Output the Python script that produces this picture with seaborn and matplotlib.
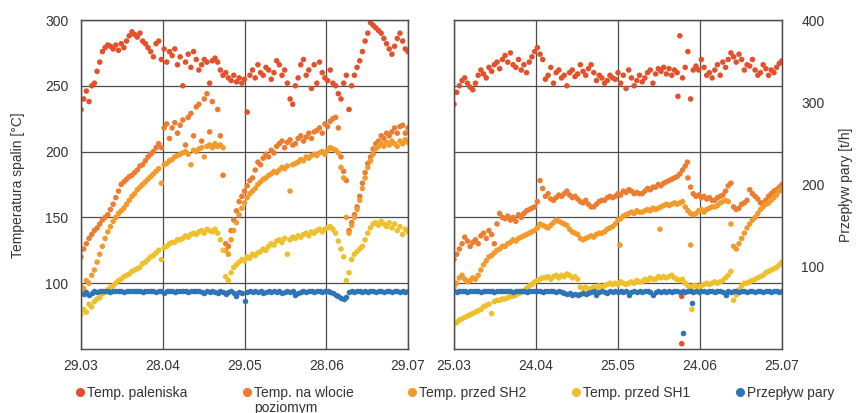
import numpy as np
import pandas as pd
import matplotlib
matplotlib.use("Agg")
import matplotlib.pyplot as plt
from matplotlib.lines import Line2D
import seaborn as sns

sns.set_style("white")
plt.rcParams['font.family'] = ['Liberation Sans', 'DejaVu Sans']

# labels
left_dates = ["29.03", "28.04", "29.05", "28.06", "29.07"]
right_dates = ["25.03", "24.04", "25.05", "24.06", "25.07"]
names = ["Temp. paleniska", "Temp. na wlocie\npoziomym", "Temp. przed SH2",
         "Temp. przed SH1", "Przepływ pary"]
colors = ["#E4502A", "#EC7C30", "#F29B2C", "#EDC02C", "#2F74B5"]

# left period, one reading per day from 29.03 (temperatures in C, flow in t/h)
pal_L = [232, 240, 246, 238, 250, 252, 261, 268, 276, 279,
         281, 280, 278, 281, 277, 282, 279, 284, 288, 291,
         289, 287, 290, 284, 282, 279, 276, 272, 282, 284,
         270, 278, 268, 276, 273, 278, 266, 272, 250, 268,
         274, 264, 276, 270, 262, 266, 270, 268, 252, 269,
         271, 268, 262, 258, 260, 256, 254, 258, 253, 256,
         252, 255, 230, 258, 262, 256, 266, 260, 258, 264,
         262, 255, 260, 269, 266, 258, 262, 252, 240, 236,
         250, 256, 266, 270, 258, 262, 248, 266, 252, 268,
         260, 256, 254, 262, 252, 250, 244, 240, 252, 258,
         232, 250, 258, 264, 269, 276, 284, 290, 298, 296,
         294, 292, 290, 286, 282, 278, 274, 280, 286, 290,
         284, 278, 276]
wl_L = [120, 126, 130, 134, 137, 140, 142, 145, 148, 150,
        152, 156, 160, 165, 170, 175, 177, 179, 181, 182,
        184, 186, 189, 190, 193, 196, 198, 200, 203, 206,
        203, 218, 221, 210, 218, 222, 214, 220, 224, 205,
        226, 229, 212, 234, 236, 208, 240, 244, 215, 238,
        205, 232, 212, 182, 130, 128, 140, 148, 155, 162,
        166, 170, 174, 178, 180, 186, 192, 190, 195, 198,
        196, 201, 199, 204, 206, 208, 203, 207, 209, 205,
        206, 210, 212, 208, 211, 214, 210, 215, 216, 218,
        214, 221, 219, 223, 225, 226, 218, 196, 185, 178,
        140, 146, 152, 158, 166, 176, 184, 191, 196, 202,
        206, 208, 212, 210, 214, 212, 215, 218, 214, 219,
        220, 214, 218]
sh2_L = [98, 96, 102, 100, 106, 110, 116, 122, 128, 134,
         139, 143, 147, 150, 153, 155, 157, 160, 163, 166,
         168, 171, 173, 175, 177, 179, 181, 183, 185, 187,
         176, 190, 191, 193, 194, 196, 197, 198, 199, 200,
         198, 190, 201, 200, 202, 203, 196, 204, 205, 203,
         206, 204, 205, 203, 125, 122, 133, 140, 146, 152,
         157, 161, 165, 168, 170, 172, 175, 177, 179, 180,
         182, 183, 185, 184, 186, 188, 187, 189, 170, 190,
         191, 192, 194, 193, 196, 195, 197, 198, 197, 199,
         200, 198, 201, 203, 202, 201, 199, 188, 180, 150,
         138, 144, 150, 156, 163, 172, 180, 188, 193, 198,
         202, 204, 206, 204, 207, 205, 208, 206, 204, 208,
         206, 209, 207]
sh1_L = [76, 80, 78, 84, 82, 86, 88, 89, 92, 93,
         95, 97, 98, 100, 102, 103, 105, 106, 107, 109,
         110, 111, 112, 115, 116, 118, 120, 121, 123, 125,
         118, 127, 128, 130, 131, 131, 133, 133, 134, 136,
         135, 137, 138, 137, 139, 140, 138, 141, 140, 139,
         141, 138, 133, 125, 105, 102, 108, 112, 114, 116,
         118, 117, 120, 119, 122, 121, 123, 124, 126, 125,
         128, 130, 129, 132, 133, 131, 134, 122, 133, 135,
         134, 136, 135, 137, 138, 136, 139, 138, 140, 141,
         139, 141, 142, 143, 141, 138, 132, 126, 120, 102,
         108, 118, 122, 124, 126, 128, 133, 138, 142, 145,
         146, 144, 147, 145, 143, 146, 142, 145, 140, 143,
         137, 141, 139]
flow_L = [68, 67, 69, 66, 68, 70, 69, 70, 71, 70,
          70, 69, 71, 70, 70, 71, 69, 70, 71, 70,
          70, 71, 70, 69, 70, 71, 70, 70, 69, 71,
          70, 68, 70, 71, 70, 69, 70, 70, 71, 70,
          69, 70, 71, 70, 70, 69, 68, 70, 69, 70,
          69, 68, 70, 69, 67, 69, 70, 68, 65, 69,
          68, 58, 69, 70, 69, 70, 69, 70, 68, 69,
          70, 69, 70, 69, 70, 68, 69, 70, 69, 70,
          66, 68, 69, 70, 69, 70, 70, 69, 70, 70,
          69, 70, 70, 69, 68, 66, 64, 62, 61, 63,
          69, 70, 69, 70, 70, 69, 70, 69, 70, 70,
          69, 70, 70, 69, 70, 70, 69, 70, 70, 69,
          70, 69, 70]

# right period, one reading per day from 25.03
pal_R = [236, 245, 250, 254, 256, 252, 249, 247, 252, 258,
         262, 259, 256, 264, 261, 266, 268, 263, 270, 273,
         268, 275, 266, 264, 270, 262, 266, 260, 268, 272,
         276, 279, 274, 270, 255, 258, 264, 252, 260, 262,
         256, 258, 250, 260, 262, 257, 259, 266, 261, 258,
         263, 266, 260, 254, 258, 256, 252, 254, 258, 256,
         255, 260, 252, 258, 248, 262, 256, 250, 254, 258,
         253, 256, 260, 262, 252, 259, 263, 261, 264, 259,
         263, 258, 262, 260, 288, 256, 264, 276, 240, 262,
         265, 262, 270, 264, 258, 260, 256, 262, 266, 258,
         268, 264, 270, 275, 272, 268, 274, 270, 262, 266,
         265, 270, 262, 258, 260, 266, 263, 258, 262, 260,
         264, 267, 269]
wl_R = [118, 122, 126, 130, 135, 132, 128, 131, 133, 130,
        136, 138, 134, 140, 137, 130, 145, 153, 150, 149,
        151, 148, 150, 147, 152, 150, 153, 155, 156, 157,
        158, 162, 178, 172, 166, 168, 164, 163, 165, 167,
        166, 168, 170, 167, 165, 166, 164, 162, 161, 163,
        160, 158, 158, 160, 162, 163, 163, 165, 166, 165,
        166, 168, 167, 170, 169, 171, 170, 168, 169, 168,
        168, 170, 172, 171, 173, 173, 175, 174, 176, 177,
        178, 179, 180, 181, 183, 186, 189, 180, 173, 168,
        166, 167, 165, 166, 164, 165, 163, 163, 165, 166,
        167, 170, 174, 176, 158, 156, 157, 160, 161, 163,
        171, 168, 166, 164, 161, 161, 163, 166, 168, 170,
        171, 173, 175]
sh2_R = [97, 100, 104, 106, 103, 101, 102, 104, 103, 106,
         110, 114, 117, 120, 121, 123, 125, 126, 128, 128,
         130, 131, 133, 132, 134, 135, 136, 137, 138, 139,
         140, 142, 145, 144, 143, 142, 144, 146, 148, 147,
         146, 145, 144, 141, 139, 138, 137, 134, 133, 134,
         135, 136, 135, 137, 138, 138, 139, 141, 142, 143,
         145, 148, 149, 151, 152, 153, 154, 153, 155, 154,
         154, 155, 156, 155, 157, 156, 157, 158, 159, 160,
         159, 160, 161, 160, 161, 162, 158, 155, 153, 152,
         153, 155, 156, 154, 156, 157, 158, 158, 159, 161,
         162, 163, 162, 145, 128, 126, 130, 134, 138, 142,
         145, 148, 150, 153, 156, 158, 160, 161, 163, 165,
         167, 170, 172]
sh1_R = [69, 70, 72, 73, 74, 75, 76, 77, 78, 79,
         80, 82, 83, 84, 77, 86, 87, 87, 88, 88,
         89, 90, 90, 91, 92, 93, 94, 96, 98, 99,
         101, 102, 103, 104, 104, 105, 103, 105, 106, 104,
         106, 105, 107, 106, 104, 105, 103, 97, 96, 97,
         95, 96, 97, 96, 98, 97, 98, 99, 100, 99,
         100, 99, 101, 100, 99, 100, 101, 100, 102, 101,
         101, 103, 102, 104, 103, 103, 105, 104, 105, 104,
         105, 106, 104, 103, 102, 103, 100, 98, 97, 98,
         98, 97, 98, 99, 100, 99, 100, 101, 100, 101,
         102, 104, 106, 109, 87, 91, 95, 98, 100, 100,
         101, 102, 103, 104, 105, 106, 108, 109, 110, 111,
         112, 114, 116]
flow_R = [70, 69, 70, 71, 70, 69, 70, 70, 71, 70,
          69, 70, 70, 71, 70, 69, 70, 70, 70, 71,
          70, 70, 69, 70, 71, 70, 70, 69, 70, 70,
          71, 70, 70, 69, 70, 70, 71, 70, 69, 70,
          69, 68, 67, 68, 66, 67, 66, 67, 68, 67,
          68, 69, 70, 66, 69, 70, 69, 68, 70, 69,
          70, 69, 70, 69, 70, 66, 69, 70, 69, 70,
          69, 70, 70, 69, 66, 69, 70, 69, 70, 69,
          70, 69, 70, 70, 69, 70, 69, 70, 70, 69,
          70, 69, 70, 70, 69, 70, 70, 69, 70, 70,
          69, 66, 70, 69, 70, 70, 69, 70, 70, 69,
          70, 70, 69, 70, 70, 69, 70, 70, 69, 70,
          70, 69, 70]

# stray readings in the right period (day, value)
pal_R_odd_day = [83.3, 84.7, 84.7]
pal_R_odd_val = [242, 90, 54]
wl_R_odd_day = [86.8]
wl_R_odd_val = [192]
sh2_R_odd_day = [61.7, 76.6, 88.0]
sh2_R_odd_val = [129, 141, 129]
sh1_R_odd_day = [88.5]
sh1_R_odd_val = [80]
flow_R_odd_day = [88.5, 85.0]
flow_R_odd_val = [56, 19]


def to_long(series, extras=None):
    frames = []
    for name, vals in series.items():
        frames.append(pd.DataFrame({"day": np.arange(len(vals)), "value": vals, "series": name}))
        if extras and name in extras:
            d, v = extras[name]
            frames.append(pd.DataFrame({"day": d, "value": v, "series": name}))
    return pd.concat(frames, ignore_index=True)


temp_names = names[:4]
pal = dict(zip(names, colors))

left_temp = to_long(dict(zip(temp_names, [pal_L, wl_L, sh2_L, sh1_L])))
left_flow = to_long({names[4]: flow_L})
right_temp = to_long(dict(zip(temp_names, [pal_R, wl_R, sh2_R, sh1_R])),
                     {names[0]: (pal_R_odd_day, pal_R_odd_val),
                      names[1]: (wl_R_odd_day, wl_R_odd_val),
                      names[2]: (sh2_R_odd_day, sh2_R_odd_val),
                      names[3]: (sh1_R_odd_day, sh1_R_odd_val)})
right_flow = to_long({names[4]: flow_R}, {names[4]: (flow_R_odd_day, flow_R_odd_val)})

W, H = 858, 413
fig = plt.figure(figsize=(W / 100, H / 100), dpi=100)
ax_l = fig.add_axes([81 / W, 64 / H, 327 / W, 329 / H])
ax_r = fig.add_axes([454 / W, 64 / H, 328 / W, 329 / H])

gridc = "#4d4d4d"
textc = "#333333"
dot = 16

for ax, temp, flow, dates, outer in [(ax_l, left_temp, left_flow, left_dates, False),
                                      (ax_r, right_temp, right_flow, right_dates, True)]:
    sns.scatterplot(data=temp, x="day", y="value", hue="series", palette=pal,
                    hue_order=temp_names, s=dot, linewidth=0, legend=False, ax=ax)
    tw = ax.twinx()
    sns.scatterplot(data=flow, x="day", y="value", color=colors[4], s=dot,
                    linewidth=0, legend=False, ax=tw)

    ax.set_xlim(0, 122)
    ax.set_ylim(50, 300)
    ax.set_xticks([0, 30.5, 61, 91.5, 122])
    ax.set_xticklabels(dates)
    ax.set_yticks([100, 150, 200, 250, 300])
    ax.grid(True, color=gridc, linewidth=0.9)
    ax.set_axisbelow(True)
    ax.set_xlabel("")
    ax.set_ylabel("")
    ax.tick_params(axis="x", length=3, color=gridc, pad=4, labelsize=10, labelcolor=textc)
    ax.tick_params(axis="y", length=0, pad=9, labelsize=10, labelcolor=textc)

    tw.set_ylim(0, 400)
    tw.set_ylabel("")
    tw.grid(False)
    if outer:
        ax.tick_params(axis="y", labelleft=False)
        tw.set_yticks([100, 200, 300, 400])
        tw.tick_params(axis="y", length=0, pad=14, labelsize=10, labelcolor=textc)
    else:
        tw.set_yticks([])

    for a in (ax, tw):
        for sp in a.spines.values():
            sp.set_visible(True)
            sp.set_color(gridc)
            sp.set_linewidth(0.9)

fig.text(18 / W, 1 - 185 / H, "Temperatura spalin [°C]", rotation=90,
         ha="center", va="center", fontsize=10, color=textc)
fig.text(846 / W, 1 - 185 / H, "Przepływ pary [t/h]", rotation=90,
         ha="center", va="center", fontsize=10, color=textc)

# legend row under the panels
leg_x = [80, 247, 412, 576, 740]
for x, name, c in zip(leg_x, names, colors):
    fig.add_artist(Line2D([x / W], [1 - 392 / H], transform=fig.transFigure,
                          marker="o", markersize=5.5, color=c, linestyle="none"))
    fig.text((x + 7) / W, 1 - 386 / H, name, ha="left", va="top",
             fontsize=10, color=textc, linespacing=1.05)

fig.savefig("out.png", dpi=100)
